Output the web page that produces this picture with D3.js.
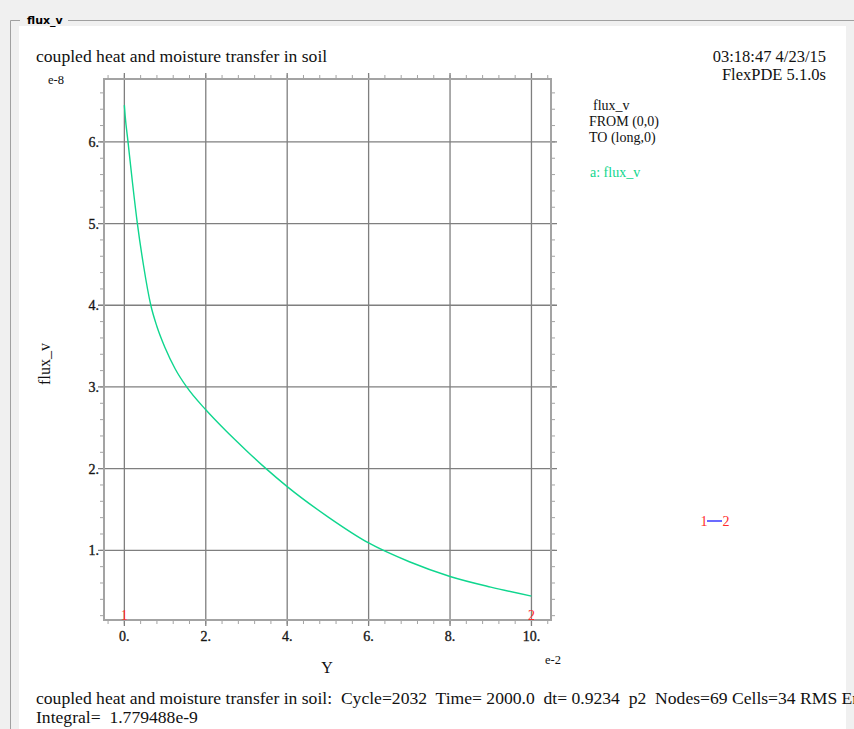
<!DOCTYPE html>
<html>
<head>
<meta charset="utf-8">
<script src="https://cdn.jsdelivr.net/npm/d3@7"></script>
<style>
  html, body { margin: 0; padding: 0; background: #f0f0f0; }
  svg { display: block; }
  .serif { font-family: "Liberation Serif", "Times New Roman", serif; fill: #111; }
  .pre { white-space: pre; }
</style>
</head>
<body>
<svg id="chart" width="854" height="729"></svg>
<script>
// flux_v along the line FROM (0,0) TO (long,0); Y in units of e-2, flux in units of e-8
const yPos  = [0, 0.02, 0.09, 0.2, 0.32, 0.47, 0.65, 0.8, 1.0, 1.25, 1.53, 2.0, 2.5, 3.0, 3.48, 4.0, 5.0, 6.0, 7.0, 8.0, 9.0, 10.0];
const fluxV = [6.45, 6.32, 6.0, 5.5, 5.0, 4.49, 4.0, 3.74, 3.48, 3.22, 3.0, 2.72, 2.46, 2.22, 2.0, 1.78, 1.41, 1.09, 0.86, 0.68, 0.55, 0.44];

const xMajor = [0, 2, 4, 6, 8, 10];
const xMajorLabels = ["0.", "2.", "4.", "6.", "8.", "10."];
const yMajor = [1, 2, 3, 4, 5, 6];
const yMajorLabels = ["1.", "2.", "3.", "4.", "5.", "6."];
const xMinor = d3.range(-4, 105, 4).map(v => v / 10);
const yMinor = d3.range(2, 67, 2).map(v => v / 10);

const titleText = "coupled heat and moisture transfer in soil";
const stamp = ["03:18:47 4/23/15", "FlexPDE 5.1.0s"];
const legendLines = ["flux_v", "FROM (0,0)", "TO (long,0)"];
const seriesLabel = "a: flux_v";
const statusLines = [
  "coupled heat and moisture transfer in soil:  Cycle=2032  Time= 2000.0  dt= 0.9234  p2  Nodes=69 Cells=34 RMS Err",
  "Integral=  1.779488e-9"
];

const green = "#0fd68e";
const gridColor = "#7f7f7f";
const frameColor = "#a3a3a3";

const svg = d3.select("#chart");

// window chrome: group box with caption
svg.append("rect").attr("x", 0).attr("y", 0).attr("width", 854).attr("height", 729).attr("fill", "#f0f0f0");
svg.append("rect").attr("x", 19).attr("y", 26).attr("width", 827).attr("height", 703).attr("fill", "#ffffff");
svg.append("path")
  .attr("d", "M10.5,729 V20.5 H20 M68,20.5 H854")
  .attr("fill", "none").attr("stroke", "#a0a0a0").attr("stroke-width", 1);
svg.append("text").attr("x", 27).attr("y", 24)
  .attr("font-family", "Tahoma, 'DejaVu Sans', sans-serif").attr("font-size", 11).attr("font-weight", "bold")
  .attr("fill", "#000").text("flux_v");

const x = d3.scaleLinear().domain([-0.5, 10.48]).range([104, 551]);
const y = d3.scaleLinear().domain([0.147, 6.77]).range([620, 79]);
const [x0, x1] = x.range();
const [y0, y1] = y.range();

const g = svg.append("g");

// minor ticks outside the frame on all four sides
const minorLen = 4, majorLen = 6;
g.append("g").selectAll("line").data(xMinor).join("line")
  .attr("x1", d => x(d)).attr("x2", d => x(d)).attr("y1", y0).attr("y2", y0 + minorLen)
  .attr("stroke", frameColor).attr("stroke-width", 1);
g.append("g").selectAll("line").data(xMinor).join("line")
  .attr("x1", d => x(d)).attr("x2", d => x(d)).attr("y1", y1).attr("y2", y1 - minorLen)
  .attr("stroke", frameColor).attr("stroke-width", 1);
g.append("g").selectAll("line").data(yMinor).join("line")
  .attr("y1", d => y(d)).attr("y2", d => y(d)).attr("x1", x0).attr("x2", x0 - minorLen)
  .attr("stroke", frameColor).attr("stroke-width", 1);
g.append("g").selectAll("line").data(yMinor).join("line")
  .attr("y1", d => y(d)).attr("y2", d => y(d)).attr("x1", x1).attr("x2", x1 + minorLen)
  .attr("stroke", frameColor).attr("stroke-width", 1);

// major grid lines, extended a little past the frame
g.append("g").selectAll("line").data(xMajor).join("line")
  .attr("x1", d => x(d)).attr("x2", d => x(d)).attr("y1", y1 - majorLen).attr("y2", y0 + majorLen)
  .attr("stroke", gridColor).attr("stroke-width", 1.3);
g.append("g").selectAll("line").data(yMajor).join("line")
  .attr("y1", d => y(d)).attr("y2", d => y(d)).attr("x1", x0 - majorLen).attr("x2", x1 + majorLen)
  .attr("stroke", gridColor).attr("stroke-width", 1.3);

// plot frame
g.append("rect").attr("x", x0).attr("y", y1).attr("width", x1 - x0).attr("height", y0 - y1)
  .attr("fill", "none").attr("stroke", frameColor).attr("stroke-width", 2);

// tick labels
g.append("g").selectAll("text").data(xMajor).join("text")
  .attr("class", "serif").attr("x", d => x(d)).attr("y", 641)
  .attr("text-anchor", "middle").attr("font-size", 14)
  .attr("stroke", "#222").attr("stroke-width", 0.35)
  .text((d, i) => xMajorLabels[i]);
g.append("g").selectAll("text").data(yMajor).join("text")
  .attr("class", "serif").attr("x", 99).attr("y", d => y(d) + 5)
  .attr("text-anchor", "end").attr("font-size", 14)
  .attr("stroke", "#222").attr("stroke-width", 0.35)
  .text((d, i) => yMajorLabels[i]);

// axis titles and exponents
svg.append("text").attr("class", "serif").attr("x", 48).attr("y", 84).attr("font-size", 12.5).text("e-8");
svg.append("text").attr("class", "serif").attr("x", 545).attr("y", 664).attr("font-size", 12.5).text("e-2");
svg.append("text").attr("class", "serif").attr("x", 327).attr("y", 673).attr("text-anchor", "middle").attr("font-size", 16).text("Y");
svg.append("text").attr("class", "serif")
  .attr("transform", "translate(50,364) rotate(-90)")
  .attr("text-anchor", "middle").attr("font-size", 16).text("flux_v");

// data curve
const line = d3.line().x((d, i) => x(yPos[i])).y(d => y(d)).curve(d3.curveMonotoneX);
g.append("path").datum(fluxV).attr("d", line)
  .attr("fill", "none").attr("stroke", green).attr("stroke-width", 1.4);

// path end markers
const ends = [{ v: yPos[0], label: "1" }, { v: yPos[yPos.length - 1], label: "2" }];
g.append("g").selectAll("text").data(ends).join("text")
  .attr("x", d => x(d.v)).attr("y", 620)
  .attr("text-anchor", "middle")
  .attr("font-family", "'Liberation Serif', serif").attr("font-size", 14)
  .attr("fill", "#ff2a2a").text(d => d.label);

// header text
svg.append("text").attr("class", "serif").attr("x", 36).attr("y", 62).attr("font-size", 17.6).text(titleText);
svg.selectAll("text.stamp").data(stamp).join("text")
  .attr("class", "serif stamp").attr("x", 826).attr("y", (d, i) => 62 + i * 17.5)
  .attr("text-anchor", "end").attr("font-size", 16.5).text(d => d);

// legend
svg.selectAll("text.leg").data(legendLines).join("text")
  .attr("class", "serif leg").attr("x", (d, i) => i === 0 ? 593 : 589).attr("y", (d, i) => 110 + i * 16)
  .attr("font-size", 14).text(d => d);
svg.append("text").attr("x", 590).attr("y", 177)
  .attr("font-family", "'Liberation Serif', serif").attr("font-size", 14)
  .attr("fill", green).text(seriesLabel);

// path key: 1 —— 2
const key = svg.append("g");
key.append("line").attr("x1", 707).attr("x2", 722).attr("y1", 521).attr("y2", 521)
  .attr("stroke", "#3a3aff").attr("stroke-width", 1.5);
key.append("text").attr("x", 704).attr("y", 526).attr("text-anchor", "middle")
  .attr("font-family", "'Liberation Serif', serif").attr("font-size", 14).attr("fill", "#ff2a2a").text("1");
key.append("text").attr("x", 726).attr("y", 526).attr("text-anchor", "middle")
  .attr("font-family", "'Liberation Serif', serif").attr("font-size", 14).attr("fill", "#ff2a2a").text("2");

// status lines
svg.selectAll("text.status").data(statusLines).join("text")
  .attr("class", "serif status pre").attr("x", 36).attr("y", (d, i) => 704 + i * 19)
  .attr("font-size", 17.6).text(d => d);
</script>
</body>
</html>
